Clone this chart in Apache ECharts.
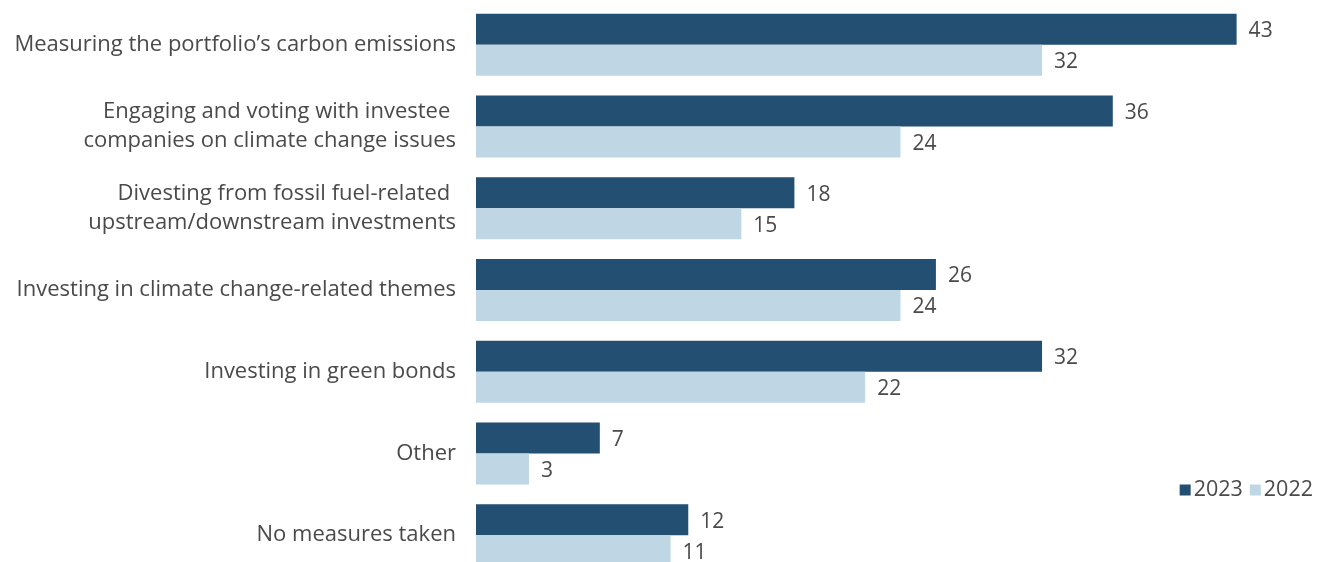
<!DOCTYPE html>
<html lang="en">
  <head>
    <meta charset="UTF-8" />
    <title>Climate measures</title>
    <script src="https://cdn.jsdelivr.net/npm/echarts@6/dist/echarts.min.js"></script>
    <style>
      html, body { margin: 0; padding: 0; background: #fff; height: 562px; overflow: hidden; }
      #chart { width: 1330px; height: 580px; }
    </style>
  </head>
  <body>
    <div id="chart"></div>
    <script>
      var categories = [
        "Measuring the portfolio\u2019s carbon emissions",
        "Engaging and voting with investee \ncompanies on climate change issues",
        "Divesting from fossil fuel-related \nupstream/downstream investments",
        "Investing in climate change-related themes",
        "Investing in green bonds",
        "Other",
        "No measures taken",
      ];
      var values2023 = [43, 36, 18, 26, 32, 7, 12];
      var values2022 = [32, 24, 15, 24, 22, 3, 11];

      var textColor = "#4a4a4a";
      var fontFamily = "'Open Sans', 'Noto Sans', sans-serif";

      var valueLabel = {
        show: true,
        position: "right",
        distance: 12,
        offset: [0, 2],
        fontSize: 21,
        color: textColor,
        fontFamily: fontFamily,
      };

      var chart = echarts.init(document.getElementById("chart"));
      chart.setOption({
        animation: false,
        textStyle: { fontFamily: fontFamily },
        legend: {
          data: ["2023", "2022"],
          right: 12,
          top: 474,
          itemWidth: 11,
          itemHeight: 11,
          itemGap: 7,
          icon: "rect",
          textStyle: { fontSize: 21.5, color: textColor, fontFamily: fontFamily, padding: [0, 0, 0, -2] },
        },
        grid: {
          left: 476,
          top: 4,
          width: 796,
          height: 572,
          containLabel: false,
        },
        xAxis: {
          type: "value",
          min: 0,
          max: 45,
          show: false,
        },
        yAxis: {
          type: "category",
          data: categories,
          inverse: true,
          axisLine: { show: false },
          axisTick: { show: false },
          axisLabel: {
            margin: 20,
            fontSize: 22,
            lineHeight: 29,
            color: textColor,
            fontFamily: fontFamily,
            align: "right",
          },
        },
        series: [
          {
            name: "2023",
            type: "bar",
            data: values2023,
            barWidth: 31,
            barGap: "0%",
            itemStyle: { color: "#234f73" },
            label: valueLabel,
          },
          {
            name: "2022",
            type: "bar",
            data: values2022,
            barWidth: 31,
            barGap: "0%",
            itemStyle: { color: "#bfd7e5" },
            label: valueLabel,
          },
        ],
      });
    </script>
  </body>
</html>
